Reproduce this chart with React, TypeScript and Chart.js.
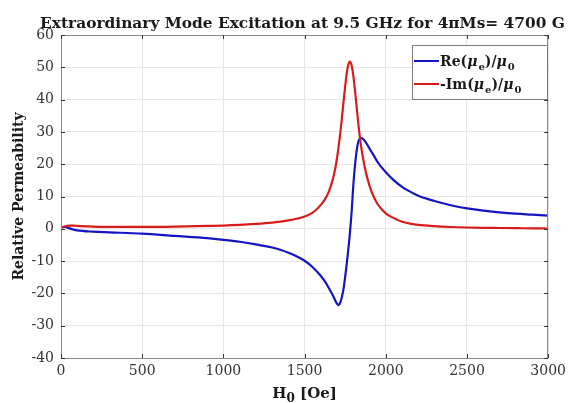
import React, { useEffect, useRef } from 'react';
import { Chart, registerables } from 'chart.js';

Chart.register(...registerables);

// ---- data ----
const fieldOe = [
  0, 25, 50, 75, 100, 200, 300, 500, 700, 900, 1000, 1100, 1200, 1300, 1350, 1400, 1450,
  1500, 1550, 1600, 1625, 1650, 1675, 1690, 1700, 1710, 1720, 1730, 1740, 1750, 1760, 1770,
  1780, 1790, 1800, 1810, 1820, 1830, 1840, 1850, 1860, 1875, 1900, 1925, 1950, 2000,
  2050, 2100, 2150, 2200, 2300, 2400, 2500, 2600, 2700, 2800, 2900, 3000,
];
const reMu = [
  0.5, 0.6, 0.2, -0.2, -0.5, -0.9, -1.1, -1.5, -2.2, -2.9, -3.4, -4.0, -4.8, -5.8, -6.5, -7.4, -8.5,
  -9.9, -11.9, -14.6, -16.3, -18.4, -20.7, -22.3, -23.2, -23.7, -22.8, -21.0, -18.5, -14.8, -10.6, -6.0,
  -0.8, 5.5, 13.5, 19.5, 24.0, 26.8, 27.9, 28.1, 27.8, 26.9, 24.8, 22.8, 20.6, 17.5,
  15.0, 13.0, 11.5, 10.2, 8.6, 7.3, 6.3, 5.6, 5.1, 4.7, 4.4, 4.1,
];
const negImMu = [
  0.3, 0.8, 1.0, 1.0, 0.9, 0.7, 0.6, 0.6, 0.7, 0.9, 1.0, 1.2, 1.5, 1.9, 2.2, 2.6, 3.1,
  3.8, 5.0, 7.4, 9.1, 11.6, 15.6, 19.0, 22.0, 25.7, 29.7, 34.4, 39.4, 44.2, 48.3, 51.0,
  51.8, 50.5, 47.5, 43.0, 38.0, 33.0, 28.5, 24.8, 21.8, 18.0, 13.3, 10.0, 7.6, 4.8,
  3.3, 2.2, 1.6, 1.2, 0.8, 0.55, 0.4, 0.3, 0.25, 0.2, 0.15, 0.1,
];
const xTickValues = [0, 500, 1000, 1500, 2000, 2500, 3000];
const yTickValues = [-40, -30, -20, -10, 0, 10, 20, 30, 40, 50, 60];

const TITLE = 'Extraordinary Mode Excitation at 9.5 GHz for 4πMs= 4700 G';
const Y_LABEL = 'Relative Permeability';

type Part = { t: string; it?: boolean; sub?: boolean };
const xLabelParts: Part[] = [{ t: 'H' }, { t: '0', sub: true }, { t: ' [Oe]' }];
const legendRe: Part[] = [
  { t: 'Re(' }, { t: 'μ', it: true }, { t: 'e', sub: true }, { t: ')/' }, { t: 'μ', it: true }, { t: '0', sub: true },
];
const legendIm: Part[] = [
  { t: '-Im(' }, { t: 'μ', it: true }, { t: 'e', sub: true }, { t: ')/' }, { t: 'μ', it: true }, { t: '0', sub: true },
];

const BLUE = '#1414c4';
const RED = '#d81c1c';
const FONT = "'DejaVu Serif', serif";

function drawParts(ctx: any, parts: Part[], x: number, baseline: number, size: number, subSize: number, subDrop: number) {
  ctx.textAlign = 'left';
  ctx.textBaseline = 'alphabetic';
  parts.forEach((p) => {
    const fs = p.sub ? subSize : size;
    ctx.font = `${p.it ? 'italic ' : ''}bold ${fs}px ${FONT}`;
    ctx.fillText(p.t, x, p.sub ? baseline + subDrop : baseline);
    x += ctx.measureText(p.t).width + (p.it ? 1 : 0);
  });
  return x;
}

function partsWidth(ctx: any, parts: Part[], size: number, subSize: number) {
  let w = 0;
  parts.forEach((p) => {
    const fs = p.sub ? subSize : size;
    ctx.font = `${p.it ? 'italic ' : ''}bold ${fs}px ${FONT}`;
    w += ctx.measureText(p.t).width + (p.it ? 1 : 0);
  });
  return w;
}

const decorPlugin = {
  id: 'decor',
  afterDraw(chart: any) {
    const { ctx, chartArea } = chart;
    const { left, right, top, bottom } = chartArea;
    ctx.save();
    // axes box
    ctx.strokeStyle = '#8a8a8a';
    ctx.lineWidth = 1;
    ctx.strokeRect(Math.round(left) + 0.5, Math.round(top) + 0.5, Math.round(right - left) - 1, Math.round(bottom - top));
    // inward ticks
    ctx.strokeStyle = '#333';
    const xs = chart.scales.x;
    const ys = chart.scales.y;
    ctx.beginPath();
    xTickValues.forEach((v) => {
      const px = Math.round(xs.getPixelForValue(v)) + 0.5;
      ctx.moveTo(px, bottom); ctx.lineTo(px, bottom - 4);
      ctx.moveTo(px, top); ctx.lineTo(px, top + 4);
    });
    yTickValues.forEach((v) => {
      const py = Math.round(ys.getPixelForValue(v)) + 0.5;
      ctx.moveTo(left, py); ctx.lineTo(left + 4, py);
      ctx.moveTo(right, py); ctx.lineTo(right - 4, py);
    });
    ctx.stroke();

    // title
    ctx.fillStyle = '#1a1a1a';
    ctx.textBaseline = 'alphabetic';
    ctx.textAlign = 'center';
    ctx.font = `bold 14px ${FONT}`;
    const w14 = ctx.measureText(TITLE).width;
    const size = Math.max(10, Math.min(18, (14 * 525) / w14));
    ctx.font = `bold ${size.toFixed(2)}px ${FONT}`;
    ctx.fillText(TITLE, 302.5, 28);

    // x-axis title with subscript
    const xw = partsWidth(ctx, xLabelParts, 15, 12);
    drawParts(ctx, xLabelParts, (left + right) / 2 - xw / 2, 398, 15, 12, 4);

    // legend
    const bx = 412, by = 45, bw = 135, bh = 54;
    ctx.fillStyle = '#ffffff';
    ctx.fillRect(bx, by, bw, bh);
    ctx.strokeStyle = '#7a7a7a';
    ctx.lineWidth = 1;
    ctx.strokeRect(bx + 0.5, by + 0.5, bw, bh);
    const rows: [string, Part[], number][] = [
      [BLUE, legendRe, 61],
      [RED, legendIm, 84],
    ];
    rows.forEach(([color, parts, cy]) => {
      ctx.strokeStyle = color;
      ctx.lineWidth = 2;
      ctx.beginPath();
      ctx.moveTo(414, cy);
      ctx.lineTo(439, cy);
      ctx.stroke();
      ctx.fillStyle = '#1a1a1a';
      drawParts(ctx, parts, 440, cy + 5, 14, 10, 4);
    });
    ctx.restore();
  },
};

export default function App() {
  const canvasRef = useRef<HTMLCanvasElement | null>(null);

  useEffect(() => {
    const canvas = canvasRef.current;
    if (!canvas) return;
    const tickFont = { family: FONT, size: 14 };
    const chart = new Chart(canvas, {
      type: 'line',
      data: {
        datasets: [
          {
            label: 'Re(μe)/μ0',
            data: fieldOe.map((h, i) => ({ x: h, y: reMu[i] })),
            borderColor: BLUE,
            borderWidth: 2.2,
            pointRadius: 0,
            cubicInterpolationMode: 'monotone',
            fill: false,
            order: 1,
          },
          {
            label: '-Im(μe)/μ0',
            data: fieldOe.map((h, i) => ({ x: h, y: negImMu[i] })),
            borderColor: RED,
            borderWidth: 2.2,
            pointRadius: 0,
            cubicInterpolationMode: 'monotone',
            fill: false,
            order: 0,
          },
        ],
      },
      options: {
        responsive: false,
        animation: false,
        devicePixelRatio: 1,
        layout: { padding: { top: 35, right: 22, left: 0, bottom: 0 } },
        plugins: {
          legend: { display: false },
          title: { display: false },
          tooltip: { enabled: false },
        },
        scales: {
          x: {
            type: 'linear',
            min: 0,
            max: 3000,
            afterFit: (s: any) => { s.height = 45; },
            afterBuildTicks: (s: any) => { s.ticks = xTickValues.map((v) => ({ value: v })); },
            ticks: {
              font: tickFont,
              color: '#333',
              padding: 5,
              maxRotation: 0,
              callback: (v: any) => String(v),
            },
            grid: { color: '#e6e6e6', drawTicks: false, lineWidth: 1 },
            border: { display: false },
            title: { display: false },
          },
          y: {
            type: 'linear',
            min: -40,
            max: 60,
            afterFit: (s: any) => { s.width = 61; },
            afterBuildTicks: (s: any) => { s.ticks = yTickValues.map((v) => ({ value: v })); },
            ticks: {
              font: tickFont,
              color: '#333',
              padding: 7,
              callback: (v: any) => String(v),
            },
            grid: { color: '#e6e6e6', drawTicks: false, lineWidth: 1 },
            border: { display: false },
            title: {
              display: true,
              text: Y_LABEL,
              font: { family: FONT, size: 14, weight: 'bold' },
              color: '#1a1a1a',
              padding: { top: 11, bottom: 0 },
            },
          },
        },
      },
      plugins: [decorPlugin],
    } as any);
    return () => chart.destroy();
  }, []);

  return (
    <div style={{ position: 'fixed', left: 0, top: 0, width: 571, height: 403, background: '#fff' }}>
      <canvas ref={canvasRef} width={571} height={403} style={{ display: 'block', width: 571, height: 403 }} />
    </div>
  );
}
